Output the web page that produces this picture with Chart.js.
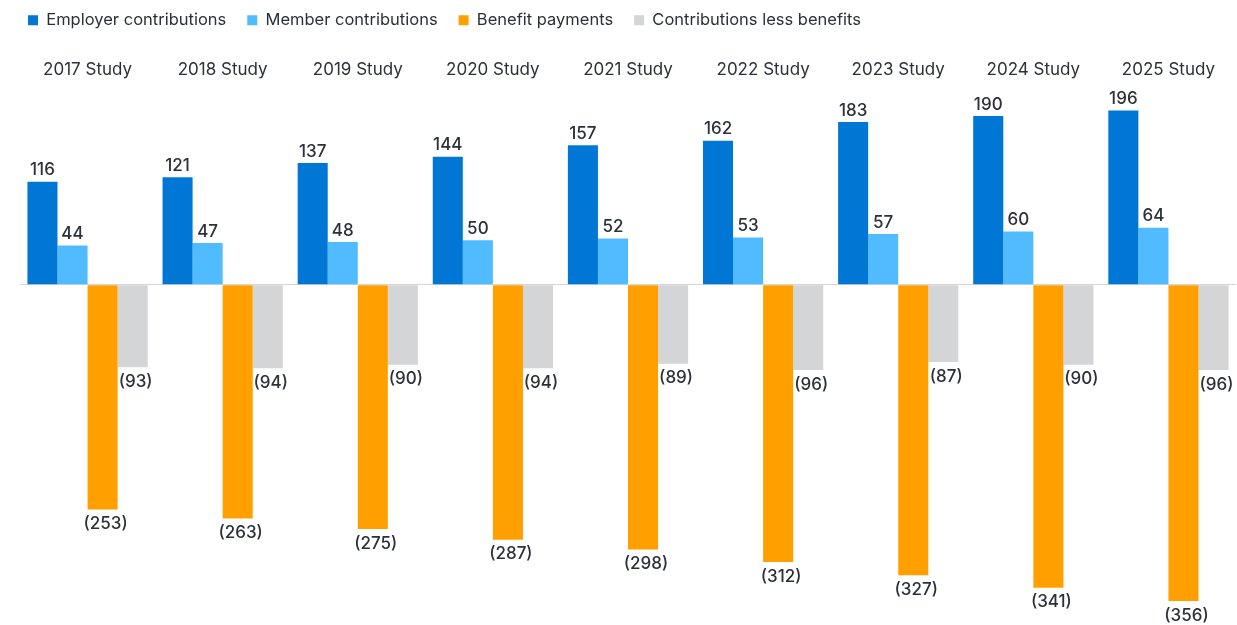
<!DOCTYPE html>
<html>
<head>
<meta charset="utf-8">
<script src="https://cdn.jsdelivr.net/npm/chart.js@4"></script>
<style>
    html, body { margin: 0; padding: 0; background: #fff; }
    #wrap { width: 1237px; height: 625px; }
</style>
</head>
<body>
<div id="wrap"><canvas id="bar-chart"></canvas></div>
<script>
const studies = ["2017 Study", "2018 Study", "2019 Study", "2020 Study", "2021 Study",
    "2022 Study", "2023 Study", "2024 Study", "2025 Study"];
const employerContributions = [116, 121, 137, 144, 157, 162, 183, 190, 196];
const memberContributions = [44, 47, 48, 50, 52, 53, 57, 60, 64];
const benefitPayments = [-253, -263, -275, -287, -298, -312, -327, -341, -356];
const contributionsLessBenefits = [-93, -94, -90, -94, -89, -96, -87, -90, -96];

const textColor = "#2b303a";
const fontFamily = "Inter, sans-serif";

// value labels: above positive bars, in brackets under negative ones
const valueLabels = {
    id: "valueLabels",
    afterDatasetsDraw(chart) {
        const ctx = chart.ctx;
        ctx.save();
        ctx.font = "500 17px " + fontFamily;
        ctx.fillStyle = textColor;
        ctx.textAlign = "center";
        chart.data.datasets.forEach((ds, i) => {
            const meta = chart.getDatasetMeta(i);
            meta.data.forEach((bar, j) => {
                const v = ds.data[j];
                if (v >= 0) {
                    ctx.textBaseline = "bottom";
                    ctx.fillText(String(v), bar.x, bar.y - 3);
                } else {
                    ctx.textBaseline = "top";
                    ctx.fillText("(" + Math.abs(v) + ")", bar.x + 3, bar.y + 6);
                }
            });
        });
        ctx.restore();
    }
};

// extra room between the legend and the study labels
const legendGap = {
    id: "legendGap",
    beforeInit(chart) {
        const fit = chart.legend.fit;
        chart.legend.fit = function () {
            fit.bind(chart.legend)();
            this.height += 9;
        };
    }
};

const chartCanvas = document.getElementById("bar-chart");
const chart = new Chart(chartCanvas, {
    type: "bar",
    data: {
        labels: studies,
        datasets: [
            { label: "Employer contributions", data: employerContributions, backgroundColor: "#0077D4" },
            { label: "Member contributions", data: memberContributions, backgroundColor: "#50BCFF" },
            { label: "Benefit payments", data: benefitPayments, backgroundColor: "#FFA000" },
            { label: "Contributions less benefits", data: contributionsLessBenefits, backgroundColor: "#D4D5D7" }
        ]
    },
    options: {
        responsive: true,
        maintainAspectRatio: false,
        animation: false,
        layout: { padding: { left: 7, right: 1, top: -9, bottom: 0 } },
        datasets: {
            bar: { barPercentage: 1, categoryPercentage: 0.89 }
        },
        plugins: {
            legend: {
                align: "start",
                labels: {
                    boxWidth: 10,
                    boxHeight: 10,
                    color: textColor,
                    padding: 21,
                    font: { family: fontFamily, size: 16.5 }
                }
            },
            tooltip: { enabled: false }
        },
        scales: {
            x: {
                position: "top",
                grid: { display: false },
                border: { display: false },
                ticks: { color: textColor, padding: 12, font: { family: fontFamily, size: 17 } }
            },
            y: {
                min: -383,
                max: 208,
                afterFit: scale => { scale.width = 13; },
                ticks: { display: false, stepSize: 1 },
                border: { display: false },
                grid: {
                    drawTicks: false,
                    color: c => c.tick.value === 0 ? "#d6d6d6" : "transparent"
                }
            }
        }
    },
    plugins: [valueLabels, legendGap]
});
</script>
</body>
</html>
